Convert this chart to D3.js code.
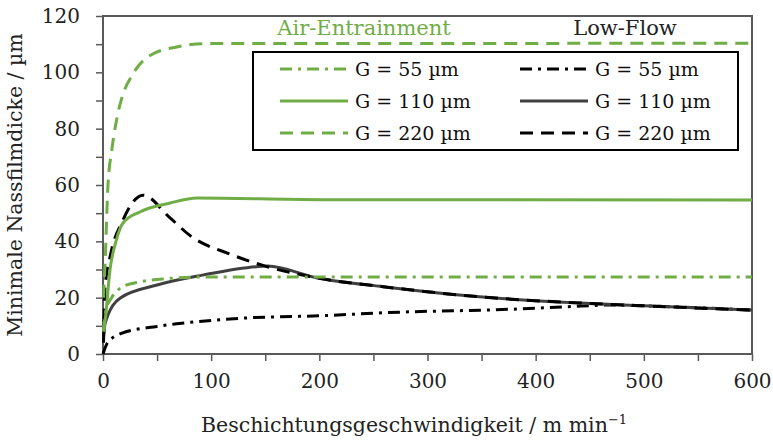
<!DOCTYPE html>
<html>
<head>
<meta charset="utf-8">
<script src="https://cdn.jsdelivr.net/npm/d3@7"></script>
<style>
  body { margin: 0; background: #fff; }
  text { font-family: "DejaVu Serif", serif; }
</style>
</head>
<body>
<div id="chart"></div>
<script>
// values
var xTicks = [0, 100, 200, 300, 400, 500, 600];
var yTicks = [0, 20, 40, 60, 80, 100, 120];

var air55  = [[0.5, 8], [3, 16], [8, 20], [18, 23.8], [34, 25.6], [60, 26.8], [90, 27.3], [200, 27.3], [600, 27.3]];
var air110 = [[0.5, 8], [2, 12], [6.5, 30], [12, 40], [18.5, 46.5], [34, 50.4], [62, 53.6], [87, 55.4], [200, 54.8], [600, 54.7]];
var air220 = [[0.5, 20], [2, 33], [4.6, 60], [8, 72], [13, 84], [17.5, 91], [27, 99], [43.5, 106], [68, 109], [94, 110.2], [600, 110.3]];
var low55  = [[0, 0], [4, 3.9], [17, 7.3], [50, 9.8], [68, 10.7], [133, 12.8], [203, 13.6], [263, 14.7], [385, 16], [430, 16.8], [470, 17.4], [500, 17.1], [600, 15.6]];
var low110 = [[0.5, 6], [2, 11], [16, 19.9], [50, 24.5], [92, 28], [142, 31], [152, 31.2], [198, 27], [259, 23.9], [348, 20.3], [441, 18.1], [500, 17.1], [600, 15.6]];
var low220 = [[0.5, 4], [2, 24], [6.5, 34.4], [18.5, 47.6], [37, 56.4], [62, 48.3], [80, 42.2], [120, 35.1], [150, 31.2], [198, 27], [259, 23.9], [348, 20.3], [441, 18.1], [500, 17.1], [600, 15.6]];

var seriesNames = ["G = 55 \u00b5m", "G = 110 \u00b5m", "G = 220 \u00b5m"];

var green = "#70ad47", black = "#000", grey = "#404040";
var dashDot = "12,6,3,6", dashed = "13,8";

var series = [
  {data: low55,  color: black, dash: dashDot, w: 3},
  {data: low110, color: grey,  dash: null,    w: 3},
  {data: low220, color: black, dash: dashed,  w: 3},
  {data: air55,  color: green, dash: dashDot, w: 3},
  {data: air110, color: green, dash: null,    w: 3},
  {data: air220, color: green, dash: dashed,  w: 3}
];

var W = 773, H = 442;
var margin = {top: 16, right: 21, bottom: 88, left: 103};
var width = W - margin.left - margin.right,
    height = H - margin.top - margin.bottom;

var svg = d3.select("#chart").append("svg")
    .attr("width", W).attr("height", H);
var g = svg.append("g")
    .attr("transform", "translate(" + margin.left + "," + margin.top + ")");

var x = d3.scaleLinear().domain([0, 600]).range([0, width]);
var y = d3.scaleLinear().domain([0, 120]).range([height, 0]);

// minor ticks
g.append("g").attr("transform", "translate(0," + height + ")")
  .call(d3.axisBottom(x).tickValues(d3.range(0, 601, 50)).tickSize(7).tickFormat(""))
  .call(a => a.select(".domain").remove())
  .selectAll("line").attr("stroke", "#595959").attr("stroke-width", 1.5);
g.append("g")
  .call(d3.axisLeft(y).tickValues(d3.range(0, 121, 10)).tickSize(7).tickFormat(""))
  .call(a => a.select(".domain").remove())
  .selectAll("line").attr("stroke", "#595959").attr("stroke-width", 1.5);

// labelled axes
var xa = g.append("g").attr("transform", "translate(0," + height + ")")
  .call(d3.axisBottom(x).tickValues(xTicks).tickSize(0).tickPadding(20));
xa.select(".domain").remove();
xa.selectAll("text").attr("font-size", 20).attr("fill", "#222").style("font-family", "DejaVu Serif");

var ya = g.append("g")
  .call(d3.axisLeft(y).tickValues(yTicks).tickSize(0).tickPadding(23));
ya.select(".domain").remove();
ya.selectAll("text").attr("font-size", 20).attr("fill", "#222").style("font-family", "DejaVu Serif");

// frame
g.append("rect").attr("width", width).attr("height", height)
  .attr("fill", "none").attr("stroke", "#595959").attr("stroke-width", 2);

var line = d3.line()
  .x(d => x(d[0])).y(d => y(d[1]))
  .curve(d3.curveMonotoneX);

series.forEach(function(s) {
  g.append("path").datum(s.data)
    .attr("d", line)
    .attr("fill", "none")
    .attr("stroke", s.color)
    .attr("stroke-width", s.w)
    .attr("stroke-dasharray", s.dash);
});

// legend
var lg = svg.append("g");
lg.append("rect").attr("x", 253).attr("y", 52).attr("width", 485).attr("height", 98)
  .attr("fill", "#fff").attr("stroke", "#000").attr("stroke-width", 2);

svg.append("text").attr("x", 364).attr("y", 35).attr("text-anchor", "middle")
  .attr("font-size", 21).attr("fill", green).text("Air-Entrainment");
svg.append("text").attr("x", 625).attr("y", 35).attr("text-anchor", "middle")
  .attr("font-size", 21).attr("fill", "#222").text("Low-Flow");

var rowsY = [69, 101, 133];
[[series[3], series[4], series[5]], [series[0], series[1], series[2]]].forEach(function(col, ci) {
  var x0 = ci === 0 ? 280 : 520;
  col.forEach(function(s, i) {
    lg.append("line").attr("x1", x0).attr("x2", x0 + 68)
      .attr("y1", rowsY[i]).attr("y2", rowsY[i])
      .attr("stroke", s.color).attr("stroke-width", s.w)
      .attr("stroke-dasharray", s.dash);
    lg.append("text").attr("x", x0 + 75).attr("y", rowsY[i] + 7)
      .attr("font-size", 19).attr("fill", "#111").text(seriesNames[i]);
  });
});

// axis titles
svg.append("text").attr("x", 414).attr("y", 432).attr("text-anchor", "middle")
  .attr("font-size", 20.5).attr("fill", "#222")
  .text("Beschichtungsgeschwindigkeit / m min")
  .append("tspan").attr("dy", -8).attr("font-size", 13).text("\u22121");

svg.append("text").attr("transform", "translate(22," + (margin.top + height / 2) + ") rotate(-90)")
  .attr("text-anchor", "middle").attr("font-size", 20.5).attr("fill", "#222")
  .text("Minimale Nassfilmdicke / \u00b5m");
</script>
</body>
</html>
